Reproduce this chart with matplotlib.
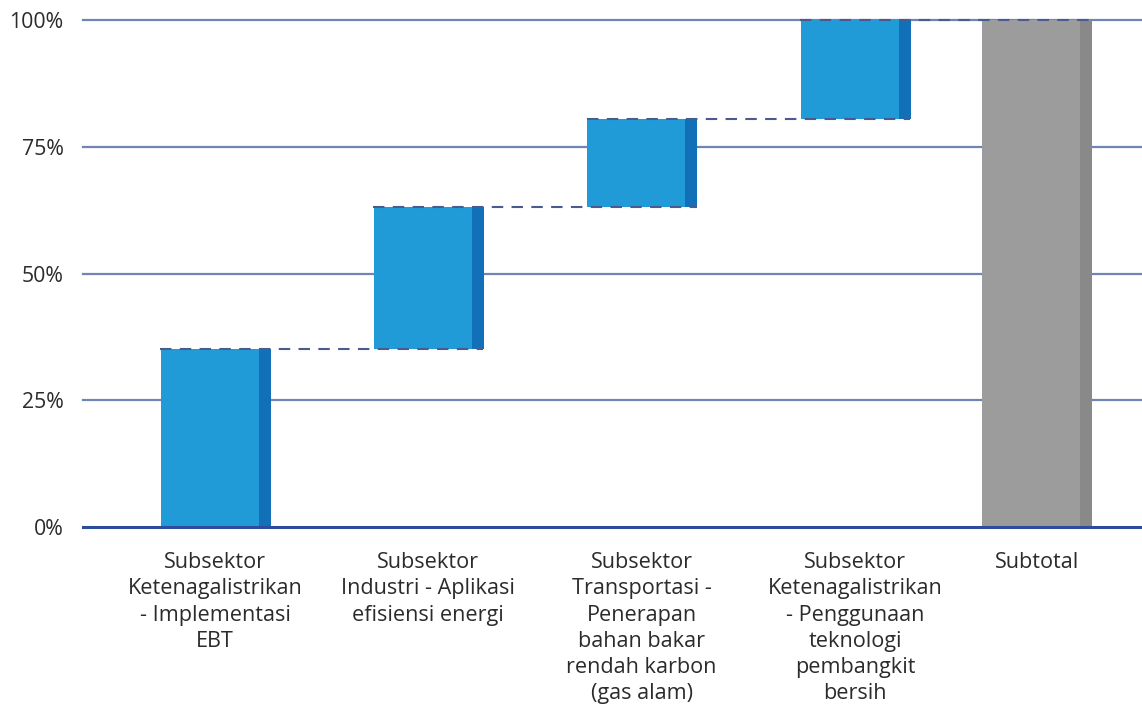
import matplotlib
matplotlib.use("Agg")
import matplotlib.pyplot as plt
import numpy as np

# Contributions of each sub-sector to the total emission reduction (share of total)
categories = [
    "Subsektor\nKetenagalistrikan\n- Implementasi\nEBT",
    "Subsektor\nIndustri - Aplikasi\nefisiensi energi",
    "Subsektor\nTransportasi -\nPenerapan\nbahan bakar\nrendah karbon\n(gas alam)",
    "Subsektor\nKetenagalistrikan\n- Penggunaan\nteknologi\npembangkit\nbersih",
    "Subtotal",
]
increments = [0.351, 0.280, 0.174, 0.195]
subtotal = 1.0
yticks = [0.0, 0.25, 0.50, 0.75, 1.00]
ytick_labels = ["0%", "25%", "50%", "75%", "100%"]

plt.rcParams["font.family"] = ["Open Sans", "DejaVu Sans"]

W, H = 1142, 709
fig = plt.figure(figsize=(W / 100, H / 100), dpi=100)
ax_left, ax_right, ax_top, ax_bottom = 83, 1142, 20, 527
ax = fig.add_axes([ax_left / W, 1 - ax_bottom / H,
                   (ax_right - ax_left) / W, (ax_bottom - ax_top) / H])

# category positions (subtotal column sits a bit closer)
pos = np.array([0, 1, 2, 3, 3.855])
width = 0.516
edge_frac = 0.11

blue, blue_dark = "#219BD7", "#1270B8"
grey, grey_dark = "#9C9C9C", "#898989"

bases = np.concatenate([[0], np.cumsum(increments)[:-1]])
tops = bases + np.array(increments)

def draw_bar(x, bottom, height, face, side):
    main_w = width * (1 - edge_frac)
    left = x - width / 2
    ax.bar(left, height, width=main_w, bottom=bottom, align="edge",
           color=face, zorder=3, linewidth=0)
    ax.bar(left + main_w, height, width=width - main_w, bottom=bottom,
           align="edge", color=side, zorder=3, linewidth=0)

for i, (b, h) in enumerate(zip(bases, increments)):
    draw_bar(pos[i] + 0.004, b, h, blue, blue_dark)
draw_bar(pos[4], 0, subtotal, grey, grey_dark)

# dashed connectors between consecutive steps
levels = list(tops)
for i, lvl in enumerate(levels):
    x0 = pos[i] - width / 2
    x1 = pos[i + 1] + width / 2
    ax.plot([x0, x1], [lvl, lvl], linestyle=(0, (5.5, 4)), color="#4A5C8E",
            linewidth=1.5, zorder=4, clip_on=False)

ax.set_xlim((ax_left - 215) / 213.3, (ax_right - 215) / 213.3)
ax.set_ylim(0, 1)

for y in yticks[1:]:
    ax.axhline(y, color="#6F85B3", linewidth=1.6, zorder=1, clip_on=False)
ax.axhline(0, color="#2D4C9C", linewidth=2.2, zorder=5, clip_on=False)

for s in ax.spines.values():
    s.set_visible(False)

ax.set_yticks(yticks)
ax.set_yticklabels(ytick_labels, fontsize=15.3, color="#2B2B2B")
ax.tick_params(axis="y", length=0, pad=14)
ax.set_xticks(pos)
ax.set_xticklabels(categories, fontsize=15.6, color="#2B2B2B", linespacing=1.33)
ax.tick_params(axis="x", length=0, pad=18)
for lbl in ax.get_xticklabels():
    lbl.set_verticalalignment("top")
    lbl.set_horizontalalignment("center")

fig.savefig("out.png", dpi=100)
